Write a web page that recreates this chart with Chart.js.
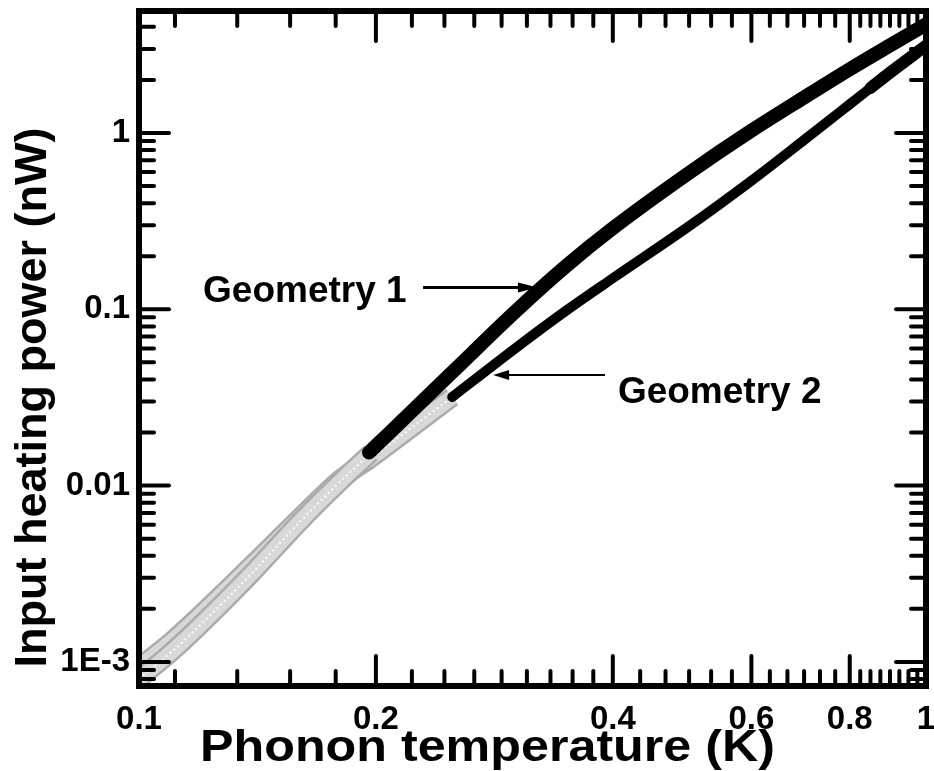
<!DOCTYPE html>
<html>
<head>
<meta charset="utf-8">
<script src="https://cdn.jsdelivr.net/npm/chart.js@4.4.0/dist/chart.umd.min.js"></script>
<style>
  html, body { margin: 0; padding: 0; background: #fff; }
  canvas { display: block; }
</style>
</head>
<body>
<canvas id="heatChart" width="934" height="771"></canvas>
<script>
// Geometry 1, black part
const g1T = [0.196, 0.2, 0.25, 0.3, 0.35, 0.4, 0.5, 0.6, 0.7, 0.8, 0.9, 1.0];
const g1P = [0.0154, 0.0168, 0.0439, 0.0961, 0.178, 0.288, 0.594, 1.03, 1.59, 2.30, 3.14, 4.13];
// Geometry 2, black part
const g2T = [0.25, 0.3, 0.35, 0.4, 0.5, 0.6, 0.7, 0.8, 0.85, 0.9, 1.0];
const g2P = [0.0318, 0.0596, 0.0992, 0.150, 0.296, 0.536, 0.912, 1.455, 1.80, 2.20, 3.13];
// grey low-temperature parts
const g1GreyT = [0.1, 0.11, 0.12, 0.14, 0.16, 0.18, 0.197];
const g1GreyP = [0.0008, 0.00114, 0.00164, 0.00328, 0.00622, 0.0105, 0.0153];
const g2GreyT = [0.1, 0.11, 0.12, 0.14, 0.16, 0.18, 0.197, 0.22, 0.25];
const g2GreyP = [0.000935, 0.00131, 0.00187, 0.00364, 0.00655, 0.0108, 0.0143, 0.0207, 0.0318];

const xTickValues = [0.1, 0.2, 0.4, 0.6, 0.8, 1];
const xTickLabels = ['0.1', '0.2', '0.4', '0.6', '0.8', '1'];
const xMinorTicks = [0.1111, 0.1333, 0.1556, 0.1778, 0.2222, 0.2444, 0.2667, 0.2889, 0.3111,
  0.3333, 0.3556, 0.3778, 0.4333, 0.4667, 0.5, 0.5333, 0.5667, 0.6333, 0.6667, 0.7, 0.7333,
  0.7667, 0.825, 0.85, 0.875, 0.9, 0.925, 0.95, 0.975];
const yTickValues = [0.001, 0.01, 0.1, 1];
const yTickLabels = ['1E-3', '0.01', '0.1', '1'];
const yMinorTicks = [0.0008, 0.0009, 0.002, 0.003, 0.004, 0.005, 0.006, 0.007, 0.008, 0.009,
  0.02, 0.03, 0.04, 0.05, 0.06, 0.07, 0.08, 0.09, 0.2, 0.3, 0.4, 0.5, 0.6, 0.7, 0.8, 0.9, 2, 3, 4];

const FONT = "'Liberation Sans', Arial, sans-serif";

function pts(xs, ys) {
  return xs.map((x, i) => ({ x: x, y: ys[i] }));
}

function greyLayers(xs, ys) {
  return [
    { data: pts(xs, ys), borderColor: 'rgba(255,255,255,0.9)', borderWidth: 2, borderDash: [2, 3] },
    { data: pts(xs, ys), borderColor: '#d8d8d8', borderWidth: 15 },
    { data: pts(xs, ys), borderColor: '#ababab', borderWidth: 20 }
  ];
}

const decorations = {
  id: 'decorations',
  afterDatasetsDraw(chart) {
    const { ctx, chartArea: a, scales: { x, y } } = chart;
    ctx.save();
    ctx.strokeStyle = '#000';
    ctx.fillStyle = '#000';
    ctx.lineCap = 'round';
    ctx.lineWidth = 4;
    const seg = (x1, y1, x2, y2) => {
      ctx.beginPath(); ctx.moveTo(x1, y1); ctx.lineTo(x2, y2); ctx.stroke();
    };
    const xTick = (v, len) => {
      const p = x.getPixelForValue(v);
      seg(p, a.bottom, p, a.bottom - len);
      seg(p, a.top, p, a.top + len);
    };
    const yTick = (v, len) => {
      const p = y.getPixelForValue(v);
      seg(a.left, p, a.left + len, p);
      seg(a.right, p, a.right - len, p);
    };
    xTickValues.forEach(v => xTick(v, 30));
    xMinorTicks.forEach(v => xTick(v, 15));
    yTickValues.forEach(v => yTick(v, 30));
    yMinorTicks.forEach(v => yTick(v, 15));

    ctx.lineCap = 'butt';
    ctx.lineWidth = 6;
    ctx.strokeRect(a.left, a.top, a.right - a.left, a.bottom - a.top);

    // annotations
    const arrow = (t1, t2, p, lw, headLen, headHalf) => {
      const x1 = x.getPixelForValue(t1), x2 = x.getPixelForValue(t2), py = y.getPixelForValue(p);
      const dir = Math.sign(x2 - x1);
      ctx.lineWidth = lw;
      seg(x1, py, x2 - dir * headLen * 0.8, py);
      ctx.beginPath();
      ctx.moveTo(x2, py);
      ctx.lineTo(x2 - dir * headLen, py - headHalf);
      ctx.lineTo(x2 - dir * headLen, py + headHalf);
      ctx.closePath();
      ctx.fill();
    };
    arrow(0.2296, 0.3213, 0.133, 3, 20, 5);
    arrow(0.391, 0.2818, 0.0424, 2, 16, 5);

    ctx.font = 'bold 37px ' + FONT;
    ctx.textAlign = 'left';
    ctx.textBaseline = 'alphabetic';
    ctx.fillText('Geometry 1', x.getPixelForValue(0.1206), y.getPixelForValue(0.110));
    ctx.fillText('Geometry 2', x.getPixelForValue(0.406), y.getPixelForValue(0.0294));

    // axis titles
    ctx.font = 'bold 45px ' + FONT;
    ctx.textAlign = 'center';
    const xTitle = 'Phonon temperature (K)';
    ctx.save();
    ctx.translate((a.left + a.right) / 2 - 45, 761);
    ctx.scale(575 / ctx.measureText(xTitle).width, 1);
    ctx.fillText(xTitle, 0, 0);
    ctx.restore();
    ctx.translate(46, (a.top + a.bottom) / 2 + 49);
    ctx.rotate(-Math.PI / 2);
    ctx.fillText('Input heating power (nW)', 0, 0);
    ctx.restore();
  }
};

const ctx = document.getElementById('heatChart').getContext('2d');
new Chart(ctx, {
  type: 'line',
  data: {
    datasets: [
      { data: pts(g1T, g1P), borderColor: '#000', borderWidth: 14, borderCapStyle: 'round' },
      {
        data: pts(g2T, g2P), borderColor: '#000', borderWidth: 10, borderCapStyle: 'round',
        segment: { borderWidth: c => (c.p0.parsed.x >= 0.85 ? 12 : 10) }
      },
      ...greyLayers(g1GreyT, g1GreyP),
      ...greyLayers(g2GreyT, g2GreyP)
    ].map(d => Object.assign({ pointRadius: 0, fill: false, cubicInterpolationMode: 'monotone', clip: 0 }, d))
  },
  options: {
    responsive: false,
    animation: false,
    layout: { padding: { top: 11, right: 8, left: 0, bottom: 0 } },
    plugins: { legend: { display: false }, tooltip: { enabled: false } },
    scales: {
      x: {
        type: 'logarithmic',
        min: 0.1,
        max: 1,
        grid: { display: false, drawTicks: false },
        border: { display: false },
        afterBuildTicks: s => { s.ticks = xTickValues.map(v => ({ value: v })); },
        afterFit: s => { s.height = 85; s.paddingLeft = 0; s.paddingRight = 0; },
        ticks: {
          autoSkip: false,
          maxRotation: 0,
          padding: 14,
          color: '#000',
          font: { family: FONT, size: 33, weight: 'bold' },
          callback: v => xTickLabels[xTickValues.findIndex(t => Math.abs(t - v) < 1e-9)]
        }
      },
      y: {
        type: 'logarithmic',
        min: 0.00073,
        max: 4.92,
        grid: { display: false, drawTicks: false },
        border: { display: false },
        afterBuildTicks: s => { s.ticks = yTickValues.map(v => ({ value: v })); },
        afterFit: s => { s.width = 139; s.paddingTop = 0; s.paddingBottom = 0; },
        ticks: {
          autoSkip: false,
          padding: 9,
          color: '#000',
          font: { family: FONT, size: 33, weight: 'bold' },
          callback: v => yTickLabels[yTickValues.findIndex(t => Math.abs(t - v) < 1e-12)]
        }
      }
    }
  },
  plugins: [decorations]
});
</script>
</body>
</html>
